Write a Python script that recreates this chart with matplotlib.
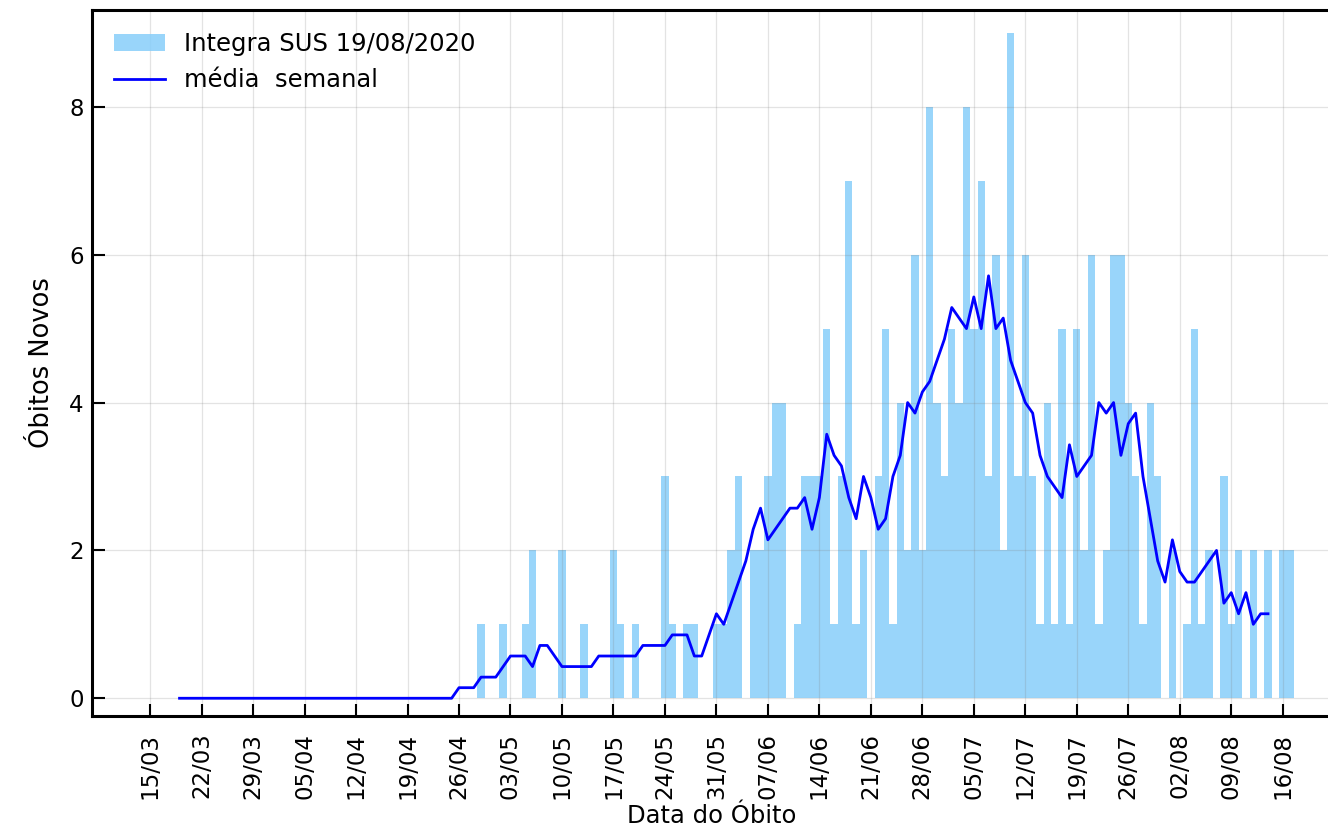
import numpy as np
import pandas as pd
import matplotlib
matplotlib.use("Agg")
import matplotlib.pyplot as plt
import matplotlib.dates as mdates

# óbitos novos por dia, a partir de 16/03/2020 (até 17/08/2020)
inicio = "2020-03-16"
obitos = [0] * 44 + [
    1, 0, 0, 1, 0, 0, 1, 2, 0, 0, 0, 2, 0, 0, 1, 0, 0, 0, 2, 1,   # 45-64
    0, 1, 0, 0, 0, 3, 1, 0, 1, 1, 0, 0, 1, 1, 2, 3, 0, 2, 2, 3,   # 65-84
    4, 4, 0, 1, 3, 3, 3, 5, 1, 3, 7, 1, 2, 0, 3, 5, 1, 4, 2, 6,   # 85-104
    2, 8, 4, 3, 5, 4, 8, 5, 7, 3, 6, 2, 9, 3, 6, 3, 1, 4, 1, 5,   # 105-124
    1, 5, 2, 6, 1, 2, 6, 6, 4, 3, 1, 4, 3, 0, 2, 0, 1, 5, 1, 2,   # 125-144
    0, 3, 1, 2, 0, 2, 0, 2, 0, 2, 2,                              # 145-155
]
semanas = pd.date_range("2020-03-15", "2020-08-16", freq="7D")

datas = pd.date_range(inicio, periods=len(obitos), freq="D")
serie = pd.Series(obitos, index=datas)
media = serie.rolling(7, center=True).mean()

fig = plt.figure(figsize=(13.28, 8.33), dpi=100)
ax = fig.add_axes([92 / 1328, 1 - 716 / 833, 1240 / 1328, 706 / 833])

barras = ax.bar(datas, serie.values, width=1.0, color="lightskyblue", alpha=0.85,
                linewidth=0, label="Integra SUS 19/08/2020", zorder=2)
linha, = ax.plot(media.index, media.values, color="blue", lw=2.0,
                 label="média  semanal", zorder=3)

x0 = mdates.date2num(pd.Timestamp("2020-03-15"))
ax.set_xlim(x0 - 7.9, x0 + 160.7)
ax.set_ylim(-0.24, 9.31)

ax.set_xticks(semanas)
ax.xaxis.set_major_formatter(mdates.DateFormatter("%d/%m"))
ax.set_yticks([0, 2, 4, 6, 8])

ax.tick_params(axis="both", direction="in", length=9, width=1.5, labelsize=16.5)
ax.tick_params(axis="x", labelrotation=90, pad=12)
ax.tick_params(axis="y", pad=6)

# grade por cima das barras, mas por baixo da linha
ax.set_axisbelow(False)
ax.grid(True, color="gray", alpha=0.22, lw=0.9)

for lado in ["left", "bottom", "top", "right"]:
    ax.spines[lado].set_linewidth(2.2)
    ax.spines[lado].set_color("black")
    ax.spines[lado].set_zorder(4)

ax.set_xlabel("Data do Óbito", fontsize=17.5, labelpad=4)
ax.set_ylabel("Óbitos Novos", fontsize=18.5, labelpad=10)

ax.legend([barras, linha], ["Integra SUS 19/08/2020", "média  semanal"],
          loc="upper left", frameon=False, fontsize=17.5,
          handlelength=2.1, borderaxespad=0.5, labelspacing=0.5)

fig.savefig("out.png", dpi=100)
